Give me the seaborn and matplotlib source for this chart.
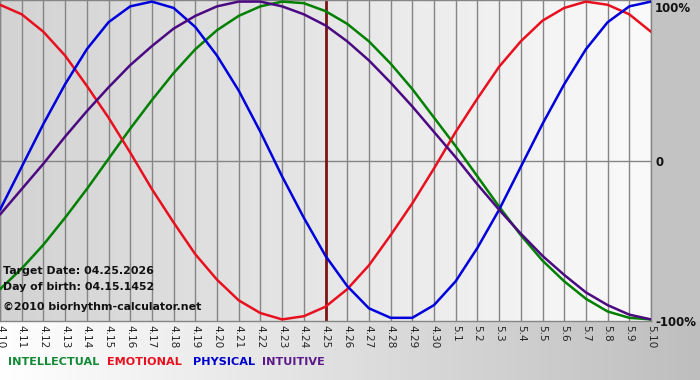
import numpy as np
import pandas as pd
import matplotlib
matplotlib.use("Agg")
import matplotlib.pyplot as plt
import seaborn as sns
from matplotlib.colors import LinearSegmentedColormap
from matplotlib.patches import Rectangle

# ---------------- data ----------------
dates = ["4.10", "4.11", "4.12", "4.13", "4.14", "4.15", "4.16", "4.17", "4.18",
         "4.19", "4.20", "4.21", "4.22", "4.23", "4.24", "4.25", "4.26", "4.27",
         "4.28", "4.29", "4.30", "5.1", "5.2", "5.3", "5.4", "5.5", "5.6", "5.7",
         "5.8", "5.9", "5.10"]
intellectual = [-81, -68, -53, -36, -18, 1, 20, 38, 55, 70, 82, 91, 97, 100, 99, 94,
                86, 75, 61, 45, 27, 9, -10, -29, -47, -63, -76, -87, -95, -99, -100]
emotional = [98, 92, 81, 66, 47, 27, 5, -18, -39, -59, -75, -88, -96, -100, -98, -92,
             -81, -66, -47, -27, -5, 18, 39, 59, 75, 88, 96, 100, 98, 92, 81]
physical = [-31, -4, 23, 48, 70, 87, 97, 100, 96, 84, 66, 44, 18, -10, -36, -60,
            -79, -93, -99, -99, -91, -76, -55, -31, -4, 23, 48, 70, 87, 97, 100]
intuitive = [-34, -18, -2, 15, 31, 46, 60, 72, 83, 91, 97, 100, 100, 97, 92, 85,
             75, 63, 49, 34, 18, 2, -15, -31, -46, -60, -72, -83, -91, -97, -100]
series_names = ["INTELLECTUAL", "EMOTIONAL", "PHYSICAL", "INTUITIVE"]
target_day = "4.25"
target_date = "04.25.2026"
birth_date = "04.15.1452"
credit = "\u00a92010 biorhythm-calculator.net"
y_labels = ["100%", "0", "-100%"]

line_colors = ["#008000", "#e8101e", "#0000dd", "#4b0a82"]
text_colors = ["#138a36", "#e8101e", "#0000cc", "#5a1a8a"]

# ---------------- build long-form frame ----------------
x = np.arange(len(dates))
df = pd.concat([
    pd.DataFrame({"day": x, "value": vals, "series": name})
    for name, vals in zip(series_names, [intellectual, emotional, physical, intuitive])
], ignore_index=True)

sns.set_style("white")
plt.rcParams["font.family"] = ["DejaVu Sans"]

W, H = 700, 380
fig = plt.figure(figsize=(W / 100, H / 100), dpi=100)

# full-figure background (white -> gray to the right)
bg = fig.add_axes([0, 0, 1, 1])
bg.axis("off")
bg.set_xlim(0, 1)
bg.set_ylim(0, 1)
grad = np.linspace(0, 1, 256).reshape(1, -1)
bg.imshow(grad, aspect="auto", extent=[0, 1, 0, 1],
          cmap=LinearSegmentedColormap.from_list("b", ["#ffffff", "#bebebe"]))
plot_right = 651 / W
plot_bottom = (H - 321) / H
bg.add_patch(Rectangle((plot_right, plot_bottom), 1 - plot_right, 1 - plot_bottom,
                       color="#c3c3c3", lw=0))

# plot area
ax = fig.add_axes([0, plot_bottom, plot_right, 1 - plot_bottom])
ymin, ymax = -101.0, 101.0
ax.imshow(grad, aspect="auto", extent=[0, len(dates) - 1, ymin, ymax], zorder=0,
          cmap=LinearSegmentedColormap.from_list("p", ["#d3d3d3", "#fafafa"]))
for d in x:
    ax.axvline(d, color="#858585", lw=1, zorder=1)
ax.axhline(0, color="#858585", lw=1, zorder=1)

sns.lineplot(data=df, x="day", y="value", hue="series", hue_order=series_names,
             palette=line_colors, legend=False, linewidth=1.8, ax=ax, zorder=3)

ax.axvline(dates.index(target_day), color="#7a1515", lw=2, zorder=2)

ax.set_xlim(0, len(dates) - 1)
ax.set_ylim(ymin, ymax)
ax.set_xlabel("")
ax.set_ylabel("")
ax.set_yticks([])
ax.set_xticks(x)
ax.set_xticklabels(dates, rotation=-90, fontsize=7.6)
ax.tick_params(axis="x", length=0, pad=3)
for s in ax.spines.values():
    s.set_color("#858585")
    s.set_linewidth(1)

# right-hand labels
label_px = [8, 162, 322]
for lab, py in zip(y_labels, label_px):
    fig.text(655 / W, 1 - py / H, lab, fontsize=8.5, fontweight="bold",
             color="#111111", va="center", ha="left")

# info text
info = [f"Target Date: {target_date}", f"Day of birth: {birth_date}", credit]
info_px = [271, 287, 307]
for t, py in zip(info, info_px):
    fig.text(3 / W, 1 - py / H, t, fontsize=7.9, fontweight="bold",
             color="#111111", va="center", ha="left")

# legend row
leg_px = [8, 107, 193, 262]
for name, col, px in zip(series_names, text_colors, leg_px):
    fig.text(px / W, 1 - 362 / H, name, fontsize=8.1, fontweight="bold",
             color=col, va="center", ha="left")

fig.savefig("out.png", dpi=100)
